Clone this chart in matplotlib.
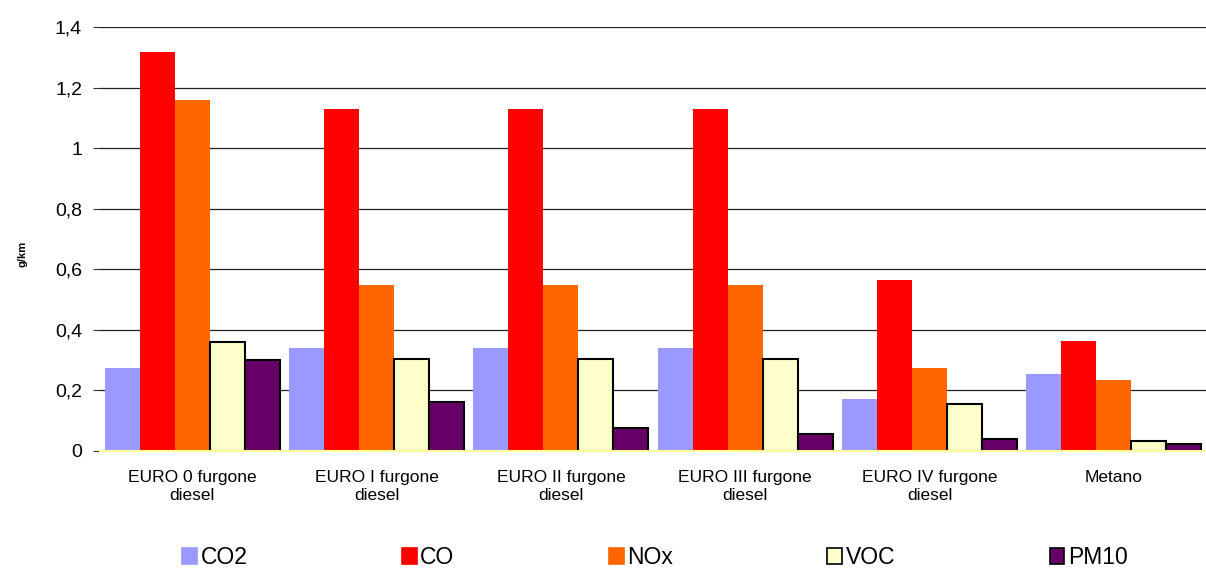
import numpy as np
import matplotlib.pyplot as plt
from matplotlib.patches import Patch

plt.rcParams['font.family'] = ['Liberation Sans', 'DejaVu Sans']

categories = ['EURO 0 furgone\ndiesel', 'EURO I furgone\ndiesel', 'EURO II furgone\ndiesel',
              'EURO III furgone\ndiesel', 'EURO IV furgone\ndiesel', 'Metano']
series_names = ['CO2', 'CO', 'NOx', 'VOC', 'PM10']
co2 = [0.274, 0.340, 0.340, 0.340, 0.172, 0.254]
co = [1.317, 1.130, 1.130, 1.130, 0.564, 0.363]
nox = [1.158, 0.548, 0.548, 0.548, 0.274, 0.234]
voc = [0.360, 0.305, 0.305, 0.305, 0.155, 0.033]
pm10 = [0.300, 0.162, 0.076, 0.056, 0.040, 0.023]
yticks = [0, 0.2, 0.4, 0.6, 0.8, 1, 1.2, 1.4]
ytick_labels = ['0', '0,2', '0,4', '0,6', '0,8', '1', '1,2', '1,4']

colors = ['#9999FF', '#FF0000', '#FF6600', '#FFFFCC', '#660066']
edges = [None, None, None, 'black', 'black']
values = [co2, co, nox, voc, pm10]

fig = plt.figure(figsize=(12.06, 5.69), dpi=100)
ax = fig.add_axes([0.083, 0.2074, 0.917, 0.7451])

x = np.arange(len(categories))
w = 0.19
for i, (vals, c, ec) in enumerate(zip(values, colors, edges)):
    pos = x + (i - 2) * w
    if ec:
        ax.bar(pos, vals, w, color=c, edgecolor=ec, linewidth=1.5, zorder=3)
    else:
        ax.bar(pos, vals, w, color=c, linewidth=0, zorder=3)

ax.set_xlim(-0.5, len(categories) - 0.5)
ax.set_ylim(0, 1.4)
ax.set_yticks(yticks)
ax.set_yticklabels(ytick_labels, fontsize=14)
ax.set_xticks(x)
ax.set_xticklabels(categories, fontsize=12.5)
ax.tick_params(axis='x', length=0, pad=14)
ax.tick_params(axis='y', length=5, color='#333333', pad=8)
ax.yaxis.grid(True, color='#222222', linewidth=0.9, zorder=0)
ax.set_axisbelow(True)
for s in ['top', 'right', 'left']:
    ax.spines[s].set_visible(False)
ax.spines['bottom'].set_color('#FFFF99')
ax.spines['bottom'].set_linewidth(1.5)
ax.spines['bottom'].set_zorder(4)
fig.text(23 / 1206, 1 - 254 / 569, 'g/km', fontsize=8, fontweight='bold',
         rotation=90, ha='center', va='center')

handles = [Patch(facecolor=c, edgecolor=(ec if ec else c), linewidth=1.2) for c, ec in zip(colors, edges)]
fig.legend(handles, series_names, loc='center', bbox_to_anchor=(0.151, 0.0, 0.784, 0.04),
           mode='expand', ncol=5, frameon=False, fontsize=16.5, borderpad=0,
           handlelength=0.65, handleheight=0.65, handletextpad=0.15, borderaxespad=0)

fig.savefig('out.png', dpi=100)
